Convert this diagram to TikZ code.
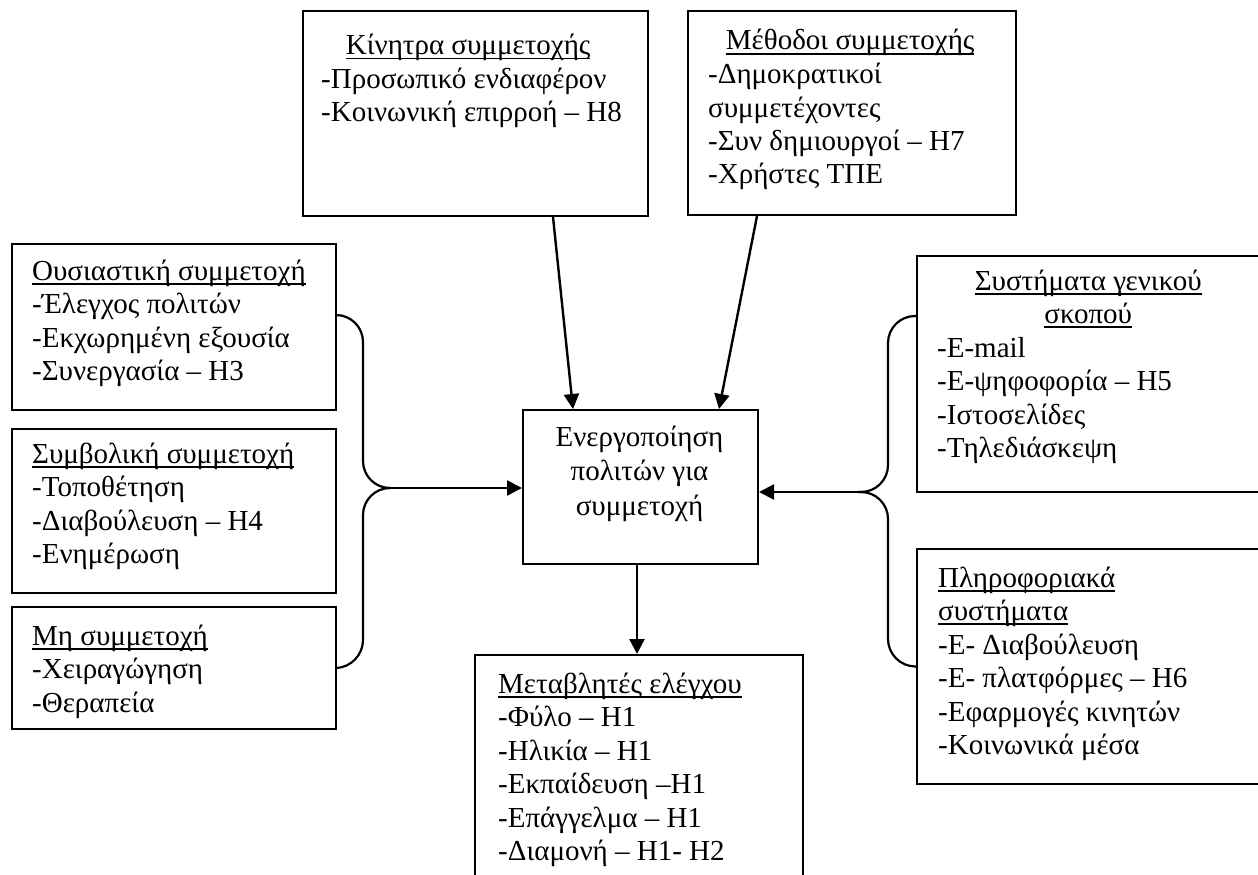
\documentclass[tikz,border=0pt]{standalone}
\usepackage{fontspec}
\setmainfont{Liberation Serif}
\usetikzlibrary{arrows.meta}
\newcommand{\fs}{\fontsize{29pt}{33.5pt}\selectfont}
\newcommand{\ulx}[1]{\leavevmode\setbox0\hbox{#1}\rlap{\rule[-4.5pt]{\wd0}{1.8pt}}\box0}
\newcommand{\ctl}[2]{\makebox[#1][c]{\ulx{#2}}}
\begin{document}
\begin{tikzpicture}[x=1pt,y=-1pt,
  box/.style={draw, line width=2pt, anchor=north west, inner sep=0pt, fill=white},
  txt/.style={inner sep=0pt, anchor=base west, font=\fs},
  txtc/.style={inner sep=0pt, anchor=base, font=\fs},
  link/.style={line width=2.4pt, -{Triangle[length=15pt,width=15pt]}},
  brk/.style={line width=2.2pt, rounded corners=27pt}]
\useasboundingbox (0,0) rectangle (1258,875);
\clip (0,0) rectangle (1258,875);
\fill[white] (0,0) rectangle (1258,875);

% boxes
\node[box, minimum width=345, minimum height=205] (kin) at (302,10) {};
\node[box, minimum width=328, minimum height=204] (met) at (687,10) {};
\node[box, minimum width=324, minimum height=166] (ous) at (11,243) {};
\node[box, minimum width=324, minimum height=164] (sym) at (11,428) {};
\node[box, minimum width=324, minimum height=122] (mi) at (11,606) {};
\node[box, minimum width=235, minimum height=154] (cen) at (522,409) {};
\node[box, minimum width=344, minimum height=236] (sys) at (916,255) {};
\node[box, minimum width=344, minimum height=235] (pli) at (916,548) {};
\node[box, minimum width=328, minimum height=260] (ctr) at (474,654) {};

% texts
\node[txt] (kinT) at (321,55) {\begin{tabular}[t]{@{}l@{}}
\ctl{294pt}{Κίνητρα συμμετοχής}\\
-Προσωπικό ενδιαφέρον\\
-Κοινωνική επιρροή – H8\end{tabular}};
\node[txt] (metT) at (708,50) {\begin{tabular}[t]{@{}l@{}}
\ctl{284pt}{Μέθοδοι συμμετοχής}\\
-Δημοκρατικοί\\
συμμετέχοντες\\
-Συν δημιουργοί – H7\\
-Χρήστες ΤΠΕ\end{tabular}};
\node[txt] (ousT) at (32,280) {\begin{tabular}[t]{@{}l@{}}
\ulx{Ουσιαστική συμμετοχή}\\
-Έλεγχος πολιτών\\
-Εκχωρημένη εξουσία\\
-Συνεργασία – H3\end{tabular}};
\node[txt] (symT) at (32,463) {\begin{tabular}[t]{@{}l@{}}
\ulx{Συμβολική συμμετοχή}\\
-Τοποθέτηση\\
-Διαβούλευση – H4\\
-Ενημέρωση\end{tabular}};
\node[txt] (miT) at (32,645) {\begin{tabular}[t]{@{}l@{}}
\ulx{Μη συμμετοχή}\\
-Χειραγώγηση\\
-Θεραπεία\end{tabular}};
\node[txtc] (cenT) at (639.5,446) {\begin{tabular}[t]{@{}c@{}}
Ενεργοποίηση\\[1pt]
πολιτών για\\[1pt]
συμμετοχή\end{tabular}};
\node[txt] (sysT) at (937,290) {\begin{tabular}[t]{@{}l@{}}
\ctl{302pt}{Συστήματα γενικού}\\
\ctl{302pt}{σκοπού}\\
-E-mail\\
-E-ψηφοφορία – H5\\
-Ιστοσελίδες\\
-Τηλεδιάσκεψη\end{tabular}};
\node[txt] (pliT) at (938,587) {\begin{tabular}[t]{@{}l@{}}
\ulx{Πληροφοριακά}\\
\ulx{συστήματα}\\
-E- Διαβούλευση\\
-E- πλατφόρμες – H6\\
-Εφαρμογές κινητών\\
-Κοινωνικά μέσα\end{tabular}};
\node[txt] (ctrT) at (498,693) {\begin{tabular}[t]{@{}l@{}}
\ulx{Μεταβλητές ελέγχου}\\
-Φύλο – H1\\
-Ηλικία – H1\\
-Εκπαίδευση –H1\\
-Επάγγελμα – H1\\
-Διαμονή – H1- H2\end{tabular}};

% junctions
\coordinate (LJ) at (389,488);
\coordinate (RJ) at (858,492);

% brackets
\draw[brk] (ous.east |- 0,315) -- (363,315) -- (363,488) -- (LJ);
\draw[brk] (LJ) -- (363,488) -- (363,667) -- (mi.east);
\draw[brk] (sys.west |- 0,316) -- (888,316) -- (888,492) -- (RJ);
\draw[brk] (RJ) -- (888,492) -- (888,666) -- (pli.west);

% arrows
\draw[link] (LJ) -- (cen.west |- LJ);
\draw[link] (RJ) -- (cen.east |- RJ);
\draw[link] (kin.south -| 553,0) -- (cen.north -| 573,0);
\draw[link] (met.south -| 757,0) -- (cen.north -| 719,0);
\draw[link] (cen.south -| 637,0) -- (ctr.north -| 637,0);
\end{tikzpicture}
\end{document}
